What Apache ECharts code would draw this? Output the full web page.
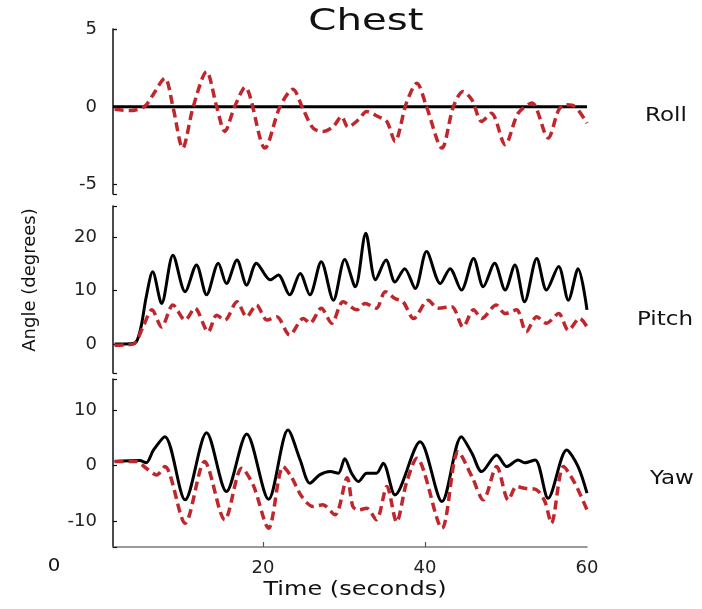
<!DOCTYPE html>
<html>
<head>
<meta charset="utf-8">
<script src="https://cdn.jsdelivr.net/npm/echarts@6/dist/echarts.min.js"></script>
<style>html,body{margin:0;padding:0;background:#fff}#c{width:702px;height:609px}</style>
</head>
<body>
<div id="c"></div>
<script>
// ---- Data (time in seconds, angle in degrees) ----
const xTickLabels = [20, 40, 60];

const rollBlackTime = [1.5, 60];
const rollBlack = [0, 0];
const rollRedTime = [1.7, 3.6, 5.4, 6.3, 7.9, 8.9, 10.1, 11.4, 13.05, 14.3, 15.3, 16.5, 17.8, 20.25, 22.1, 23.7, 25.0, 26.2, 27.4, 28.7, 29.7, 30.5, 31.8, 32.8, 34.2, 35.3, 36.3, 37.7, 39.0, 40.2, 42.1, 43.5, 44.7, 45.8, 47.0, 48.2, 49.9, 51.5, 53.2, 55.2, 56.5, 57.3, 58.5, 60];
const rollRed = [-0.15, -0.24, 0.02, 0.66, 1.84, 0, -2.65, 0, 2.26, 0, -1.58, 0, 1.26, -2.65, 0, 1.13, -0.2, -1.37, -1.58, -1.26, -0.62, -1.3, -0.83, -0.3, -0.62, -0.94, -2.22, 0.23, 1.52, 0, -2.65, 0, 0.98, 0.45, -0.94, -0.41, -2.43, -0.41, 0.24, -2.0, -0.2, 0.13, 0.02, -1.05];

const pitchBlackTime = [1.7, 4.0, 4.5, 5.0, 5.6, 6.4, 7.5, 8.9, 10.4, 11.8, 13.05, 14.5, 15.5, 16.8, 18.0, 19.2, 20.9, 21.9, 23.3, 24.6, 25.8, 27.2, 28.7, 30.1, 31.4, 32.7, 33.9, 35.2, 36.3, 37.5, 38.8, 40.2, 41.9, 43.1, 44.5, 46.0, 47.2, 48.6, 49.9, 51.1, 52.3, 53.8, 55.0, 56.5, 57.7, 58.9, 60];
const pitchBlack = [0, 0.1, 0.8, 3.5, 8.8, 13.5, 7.6, 16.6, 9.8, 14.8, 9.2, 15.1, 11.3, 15.7, 11.0, 15.1, 12.0, 12.9, 9.2, 13.2, 9.2, 15.4, 8.2, 15.8, 10.7, 20.7, 12.0, 15.7, 11.6, 14.1, 10.4, 17.3, 11.3, 14.1, 10.1, 16, 10.7, 15.1, 10.1, 14.8, 7.9, 16, 10.1, 14.5, 8.2, 14.1, 6.4];
const pitchRedTime = [1.7, 4.0, 5.2, 6.3, 7.5, 8.9, 10.4, 11.6, 13.25, 14.3, 15.3, 16.8, 18.0, 19.2, 20.5, 21.7, 23.3, 25.0, 25.8, 27.2, 28.5, 29.9, 31.6, 32.6, 34.0, 35.1, 36.3, 37.3, 38.6, 40.4, 41.6, 43.3, 44.7, 46.0, 47.0, 48.8, 49.9, 51.3, 52.5, 53.8, 55.0, 56.5, 57.7, 59.1, 60];
const pitchRed = [-0.2, 0, 3.2, 6.4, 3.2, 7.3, 4.5, 6.7, 2.3, 5.4, 4.5, 7.9, 5.1, 7.3, 4.5, 5.1, 1.7, 4.8, 3.9, 6.7, 3.9, 7.9, 6.4, 7.6, 6.7, 9.8, 8.5, 7.9, 4.8, 8.2, 6.7, 7.0, 3.2, 6.4, 4.8, 7.3, 5.7, 6.4, 2.3, 5.1, 3.9, 5.7, 2.6, 4.8, 3.2];

const yawBlackTime = [1.7, 4.8, 5.6, 6.5, 7.9, 10.4, 13.05, 15.5, 18.0, 20.7, 23.1, 24.6, 25.8, 27.0, 28.3, 29.3, 30.1, 30.95, 31.8, 32.8, 34.0, 34.85, 36.3, 39.4, 42.1, 44.5, 45.8, 47.0, 48.85, 50.1, 51.5, 52.3, 53.6, 55.2, 57.5, 58.9, 60];
const yawBlack = [0.7, 0.9, 0.5, 2.8, 5.2, -6.2, 5.9, -4.7, 5.7, -6.1, 6.4, 1.0, -3.2, -1.7, -1.1, -1.4, 1.2, -1.4, -2.9, -1.4, -1.4, 0.4, -5.3, 4.3, -6.5, 5.2, 2.2, -1.1, 1.9, -0.2, 1.0, 0.5, 1.0, -5.9, 2.8, -0.2, -5.0];
const yawRedTime = [1.7, 4.4, 5.6, 6.9, 7.9, 10.4, 12.8, 15.3, 17.4, 18.8, 20.7, 22.5, 23.5, 24.8, 26.2, 27.4, 28.9, 30.4, 31.1, 31.8, 32.8, 34.0, 35.3, 36.5, 37.7, 39.0, 42.1, 44.1, 45.8, 47.2, 48.85, 50.3, 51.3, 52.3, 53.8, 54.8, 55.6, 57.1, 58.5, 60];
const yawRed = [0.7, 0.7, -0.5, -1.7, -0.2, -10.4, 0.7, -9.8, -0.5, -3.5, -11.3, -0.2, -2.0, -5.6, -7.4, -7.1, -8.9, -2.2, -7.4, -8.0, -7.7, -9.8, -3.8, -10.2, -3.2, 1.3, -11.3, 2.5, -2.0, -6.2, -0.2, -6.2, -3.8, -4.1, -4.4, -6.5, -10.4, -0.2, -3.2, -8.0];

const rollTicks = [-5, 0, 5];
const pitchTicks = [0, 10, 20];
const yawTicks = [-10, 0, 10];
const panelRanges = [[-5.6, 5], [-5.4, 25.8], [-14.7, 15.6]];

// ---- Build chart ----
const zip = (t, v) => t.map((x, i) => [x, v[i]]);
const FONT = 'DejaVu Sans';
const RED = '#c0272d';
const SMOOTH = 0.3;

const grids = [
  { left: 113, right: 115, top: 29, height: 165 },
  { left: 113, right: 115, top: 206, height: 167 },
  { left: 113, right: 115, top: 379, height: 168 }
];

function xAxisFor(i) {
  const last = i === 2;
  return {
    type: 'value', gridIndex: i, min: 1.5, max: 60,
    axisLine: { show: last, onZero: false, lineStyle: { color: '#7a7a7a', width: 1.5 } },
    axisTick: { show: last, inside: true, length: 5, customValues: [20, 40], lineStyle: { color: '#555', width: 1.2 } },
    axisLabel: { show: last, customValues: xTickLabels, margin: 12, fontFamily: FONT, fontSize: 18, color: '#222' },
    splitLine: { show: false }
  };
}
function yAxisFor(i, ticks) {
  const r = panelRanges[i];
  return {
    type: 'value', gridIndex: i, min: r[0], max: r[1],
    axisLine: { show: true, lineStyle: { color: '#111', width: 1.5 } },
    axisTick: { show: true, inside: true, length: 4, customValues: [r[0]].concat(ticks, [r[1]]), lineStyle: { color: '#111', width: 1.2 } },
    axisLabel: { customValues: ticks, margin: 16, fontFamily: FONT, fontSize: 18, color: '#222' },
    splitLine: { show: false }
  };
}
function blackSeries(i, t, v) {
  return { type: 'line', xAxisIndex: i, yAxisIndex: i, data: zip(t, v), showSymbol: false, smooth: SMOOTH,
    lineStyle: { color: '#000', width: 3 }, silent: true, animation: false };
}
function redSeries(i, t, v) {
  return { type: 'line', xAxisIndex: i, yAxisIndex: i, data: zip(t, v), showSymbol: false, smooth: SMOOTH,
    lineStyle: { color: RED, width: 3.5, type: [9, 5] }, silent: true, animation: false, z: 3 };
}

function txt(x, y, text, size, scaleX, extra) {
  return Object.assign({
    type: 'text', x: x, y: y, scaleX: scaleX || 1,
    style: { text: text, x: 0, y: 0, fontFamily: FONT, fontSize: size, fill: '#111', textAlign: 'center', textVerticalAlign: 'middle' }
  }, extra || {});
}

const chart = echarts.init(document.getElementById('c'), null, { renderer: 'canvas' });
chart.setOption({
  animation: false,
  backgroundColor: '#fff',
  grid: grids,
  xAxis: [xAxisFor(0), xAxisFor(1), xAxisFor(2)],
  yAxis: [yAxisFor(0, rollTicks), yAxisFor(1, pitchTicks), yAxisFor(2, yawTicks)],
  series: [
    blackSeries(0, rollBlackTime, rollBlack),
    redSeries(0, rollRedTime, rollRed),
    blackSeries(1, pitchBlackTime, pitchBlack),
    redSeries(1, pitchRedTime, pitchRed),
    blackSeries(2, yawBlackTime, yawBlack),
    redSeries(2, yawRedTime, yawRed)
  ],
  graphic: [
    txt(366, 22, 'Chest', 31, 1.3),
    txt(666, 116, 'Roll', 20, 1.15),
    txt(665, 320, 'Pitch', 20, 1.15),
    txt(672, 479, 'Yaw', 20, 1.15),
    txt(355, 590, 'Time (seconds)', 20, 1.2),
    txt(54, 566, '0', 18, 1.1),
    txt(30, 280, 'Angle (degrees)', 18, 1, { rotation: Math.PI / 2 })
  ]
});
</script>
</body>
</html>
